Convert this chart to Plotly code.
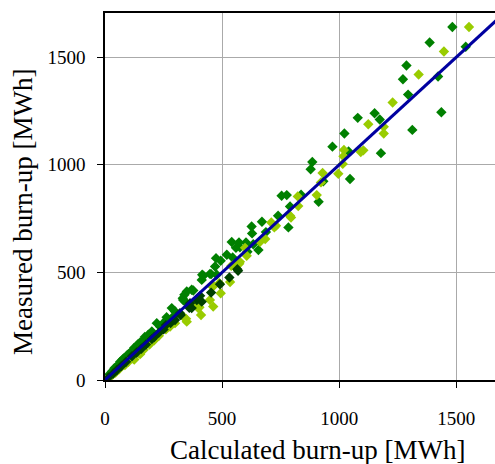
import plotly.graph_objects as go

# Series 1 (green): calculated, measured burn-up [MWh]
green_x = [1483, 1386, 1540, 1287, 1272, 1422, 1294, 1436, 1079, 1151, 1173, 1022, 1312, 971, 1040, 1178, 932, 1046,
           885, 878, 754, 776, 837, 912, 790, 739, 670, 626, 783, 628, 687, 655, 541, 572, 602, 559, 633, 608, 545,
           605, 576, 520, 474, 494, 470, 415, 453, 413, 420, 448, 477, 377, 349, 370, 334, 339, 342, 332, 285, 299,
           292, 263, 263, 249, 221, 235, 200, 185, 170, 150, 140, 125, 110, 95, 80, 65, 55, 40, 30, 20, 180, 160,
           130, 100, 75]
green_y = [1640, 1568, 1548, 1461, 1397, 1410, 1326, 1244, 1218, 1239, 1210, 1145, 1162, 1084, 1062, 1054, 923, 934,
           1013, 979, 856, 859, 861, 828, 806, 763, 735, 713, 709, 681, 687, 604, 641, 639, 639, 614, 631, 596, 569,
           620, 617, 582, 566, 554, 527, 489, 492, 465, 484, 493, 489, 416, 411, 419, 372, 396, 364, 380, 334, 318,
           295, 292, 279, 264, 264, 248, 225, 210, 200, 175, 165, 150, 130, 115, 100, 85, 70, 55, 40, 28, 190, 180,
           140, 120, 95]

# Series 2 (yellow-green)
yellow_x = [1554, 1447, 1339, 1228, 1124, 1190, 1190, 1020, 1092, 1103, 1018, 1015, 996, 929, 922, 823, 904, 825,
            790, 794, 710, 723, 730, 684, 662, 598, 605, 576, 548, 539, 573, 534, 458, 488, 494, 448, 462, 398,
            410, 377, 346, 463, 403, 334, 349, 278, 299, 260, 230, 210, 190, 165, 145, 120, 100, 85, 60, 45, 30,
            150, 125]
yellow_y = [1640, 1526, 1419, 1289, 1188, 1176, 1145, 1069, 1059, 1067, 1039, 1004, 958, 962, 918, 853, 859, 808,
            763, 755, 732, 709, 717, 655, 642, 614, 577, 549, 535, 530, 540, 455, 434, 450, 403, 372, 341, 334,
            302, 357, 284, 437, 338, 295, 271, 248, 264, 235, 205, 185, 165, 140, 125, 100, 85, 70, 50, 35, 22,
            120, 95]

# Series 3 (dark green)
dark_x = [565, 568, 531, 491, 413, 406, 360, 323, 453, 363, 370, 392, 320, 299, 280, 250, 230, 200, 175, 155, 135,
          115, 90, 70, 50, 35, 15, 260, 210]
dark_y = [515, 507, 476, 445, 364, 391, 336, 302, 406, 357, 334, 372, 310, 279, 265, 235, 220, 190, 165, 145, 128,
          110, 85, 65, 45, 30, 12, 255, 200]

# Reference line y = x
line_x = [0, 1750]
line_y = [0, 1750]

x_ticks = [0, 500, 1000, 1500]
y_ticks = [0, 500, 1000, 1500]

serif = "Liberation Serif, Times New Roman, serif"

fig = go.Figure()
for xs, ys, col in [(green_x, green_y, "#008000"), (yellow_x, yellow_y, "#99CC00"), (dark_x, dark_y, "#004000")]:
    fig.add_trace(go.Scatter(x=xs, y=ys, mode="markers",
                             marker=dict(symbol="diamond", size=8, color=col, line=dict(width=0)),
                             showlegend=False, cliponaxis=True))
fig.add_trace(go.Scatter(x=line_x, y=line_y, mode="lines", line=dict(color="#0000A0", width=3),
                         showlegend=False))

fig.update_layout(
    width=495, height=464,
    margin=dict(l=105, r=0, t=13, b=84),
    paper_bgcolor="white", plot_bgcolor="white",
    font=dict(family=serif, size=19, color="black"),
    xaxis=dict(range=[0, 1665], tickvals=x_ticks, ticktext=[str(v) for v in x_ticks],
               showgrid=True, gridcolor="#AAAAAA", gridwidth=1, zeroline=False,
               showline=True, linecolor="black", linewidth=1.5, mirror=True,
               ticks="outside", ticklen=6, tickcolor="black", ticklabelstandoff=14),
    yaxis=dict(range=[0, 1705], tickvals=y_ticks, ticktext=[str(v) for v in y_ticks],
               showgrid=True, gridcolor="#AAAAAA", gridwidth=1, zeroline=False,
               showline=True, linecolor="black", linewidth=1.5, mirror=False,
               ticks="outside", ticklen=6, tickcolor="black", ticklabelstandoff=8),
    annotations=[
        dict(text="Calculated burn-up [MWh]", xref="paper", yref="paper", x=0.546, y=-0.191,
             xanchor="center", yanchor="middle", showarrow=False, font=dict(family=serif, size=27)),
        dict(text="Measured burn-up [MWh]", xref="paper", yref="paper", x=-0.21, y=0.458,
             xanchor="center", yanchor="middle", showarrow=False, textangle=-90,
             font=dict(family=serif, size=27)),
    ],
)

fig.write_html("out.html", config={"displayModeBar": False},
               post_script="document.body.style.margin='0';document.body.style.overflow='hidden';")
